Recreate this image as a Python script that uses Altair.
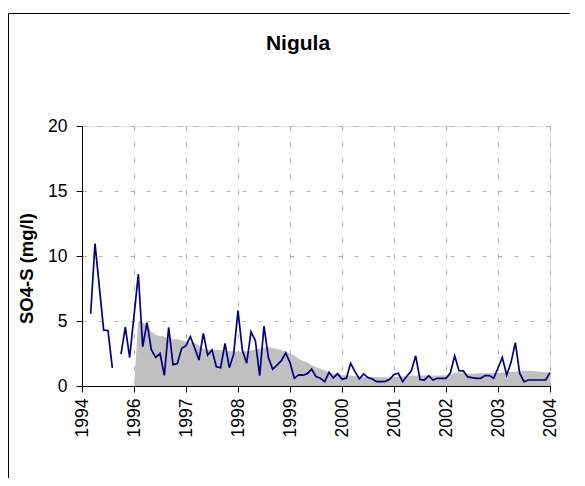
import altair as alt
import pandas as pd

# ---- data ----
chart_title = "Nigula"
year_labels = ["1994", "1996", "1997", "1998", "1999", "2000", "2001", "2002", "2003", "2004"]
tick_months = [0, 12, 24, 36, 48, 60, 72, 84, 96, 108]

# measured SO4-S (two segments, gap between them)
seg1_month = [2, 3, 5, 6, 7]
seg1_value = [5.56, 10.96, 4.3, 4.27, 1.39]

seg2_month = [9, 10, 11, 13, 14, 15, 16, 17, 18, 19, 20, 21, 22, 23, 24, 25, 26, 27, 28, 29,
              30, 31, 32, 33, 34, 35, 36, 37, 38, 39, 40, 41, 42, 43, 44, 45, 46, 47, 48, 49,
              50, 51, 52, 53, 54, 55, 56, 57, 58, 59, 60, 61, 62, 63, 64, 65, 66, 67, 68, 69,
              70, 71, 72, 73, 74, 75, 76, 77, 78, 79, 80, 81, 82, 83, 84, 85, 86, 87, 88, 89,
              90, 91, 92, 93, 94, 95, 97, 98, 99, 100, 101, 102, 103, 104, 105, 106, 107, 108]
seg2_value = [2.45, 4.53, 2.19, 8.6, 3.02, 4.88, 2.8, 2.2, 2.5, 0.82, 4.52, 1.64, 1.72, 2.9, 3.1, 3.8, 2.93, 2.0, 4.05, 2.38,
              2.77, 1.48, 1.41, 3.27, 1.41, 2.45, 5.8, 2.76, 1.75, 4.16, 3.5, 0.8, 4.6, 2.2, 1.29, 1.61, 1.95, 2.55, 1.8, 0.59,
              0.85, 0.83, 0.95, 1.29, 0.72, 0.59, 0.33, 1.05, 0.62, 0.95, 0.52, 0.6, 1.75, 1.1, 0.56, 0.93, 0.65, 0.54, 0.33, 0.33,
              0.36, 0.52, 0.88, 0.98, 0.33, 0.77, 1.16, 2.32, 0.5, 0.46, 0.8, 0.46, 0.59, 0.59, 0.59, 1.0, 2.32, 1.18, 1.16, 0.7,
              0.64, 0.59, 0.59, 0.8, 0.8, 0.59, 2.19, 0.85, 1.8, 3.34, 0.98, 0.33, 0.46, 0.46, 0.46, 0.46, 0.46, 1.03]

# grey background envelope
area_month = list(range(12, 109))
area_value = [0.0, 5.02, 4.9, 4.7, 4.2, 3.95, 3.85, 3.8, 3.65, 3.6, 3.6, 3.5, 3.42, 3.35, 3.3, 3.1, 2.85, 2.8,
              2.78, 2.78, 2.75, 2.72, 2.7, 2.65, 2.65, 2.65, 2.68, 2.73, 2.8, 2.86, 2.95, 3.0, 2.92, 2.85, 2.75, 2.68,
              2.5, 2.35, 2.1, 1.95, 1.8, 1.6, 1.45, 1.32, 1.2, 1.08, 0.95, 0.88, 0.85, 0.8, 0.8, 0.75, 0.72, 0.72,
              0.72, 0.7, 0.7, 0.68, 0.67, 0.65, 0.68, 0.72, 0.74, 0.76, 0.78, 0.78, 0.8, 0.8, 0.8, 0.8, 0.8, 0.8,
              0.82, 0.88, 1.0, 1.05, 1.0, 0.95, 0.95, 0.97, 0.98, 0.98, 0.98, 1.0, 1.0, 1.03, 1.05, 1.08, 1.12, 1.15,
              1.18, 1.18, 1.15, 1.12, 1.1, 1.05, 1.03]

rows = []
for m, v in zip(area_month, area_value):
    rows.append({"month": m, "value": v, "kind": "area", "seg": "env"})
for m, v in zip(seg1_month, seg1_value):
    rows.append({"month": m, "value": v, "kind": "line", "seg": "s1"})
for m, v in zip(seg2_month, seg2_value):
    rows.append({"month": m, "value": v, "kind": "line", "seg": "s2"})
df = pd.DataFrame(rows)

FONT = "Liberation Sans"
label_expr = "[" + ",".join("'%s'" % y for y in year_labels) + "][round(datum.value / 12)]"

x_enc = alt.X(
    "month:Q",
    scale=alt.Scale(domain=[0, 108], nice=False, zero=False),
    axis=alt.Axis(
        values=tick_months, labelExpr=label_expr, labelAngle=-90, title=None,
        grid=True, gridDash=[4, 12], gridColor="#a8a8a8", gridWidth=1,
        domainColor="black", tickColor="black", tickSize=6,
        labelFont=FONT, labelFontSize=17.5, labelColor="black", labelPadding=6,
    ),
)
y_enc = alt.Y(
    "value:Q",
    scale=alt.Scale(domain=[0, 20], nice=False),
    axis=alt.Axis(
        values=[0, 5, 10, 15, 20], title="SO4-S (mg/l)",
        grid=True, gridDash=[4, 12], gridColor="#b4b4b4", gridWidth=1,
        domainColor="black", tickColor="black", tickSize=6,
        labelFont=FONT, labelFontSize=17.5, labelColor="black", labelPadding=9,
        titleFont=FONT, titleFontSize=18.5, titleFontWeight="bold", titleColor="black",
        titlePadding=11, titleY=142,
    ),
)

base = alt.Chart(df).encode(x=x_enc, y=y_enc)

area = base.transform_filter(alt.datum.kind == "area").mark_area(
    color="#c0c0c0", opacity=1, interpolate="linear"
)
line = base.transform_filter(alt.datum.kind == "line").mark_line(
    color="#000080", strokeWidth=1.7
).encode(detail="seg:N")

frame = alt.Chart(pd.DataFrame({"a": [0]})).mark_rect(
    filled=False, stroke="black", strokeWidth=1
).encode(
    x=alt.value(-73.5), x2=alt.value(620), y=alt.value(-112.5), y2=alt.value(420)
)

title_text = alt.Chart(pd.DataFrame({"t": [chart_title]})).mark_text(
    font=FONT, fontSize=21, fontWeight="bold", color="black",
    align="center", baseline="middle",
).encode(text="t:N", x=alt.value(216), y=alt.value(-82))

chart = alt.layer(area, line, frame, title_text).properties(
    width=468,
    height=260,
    autosize=alt.AutoSizeParams(type="none"),
    padding={"left": 74, "top": 118, "right": 20, "bottom": 92},
).configure_view(stroke="#808080", strokeWidth=1).configure(background="white")

chart.save("out.html", embed_options={"renderer": "svg", "actions": False})
